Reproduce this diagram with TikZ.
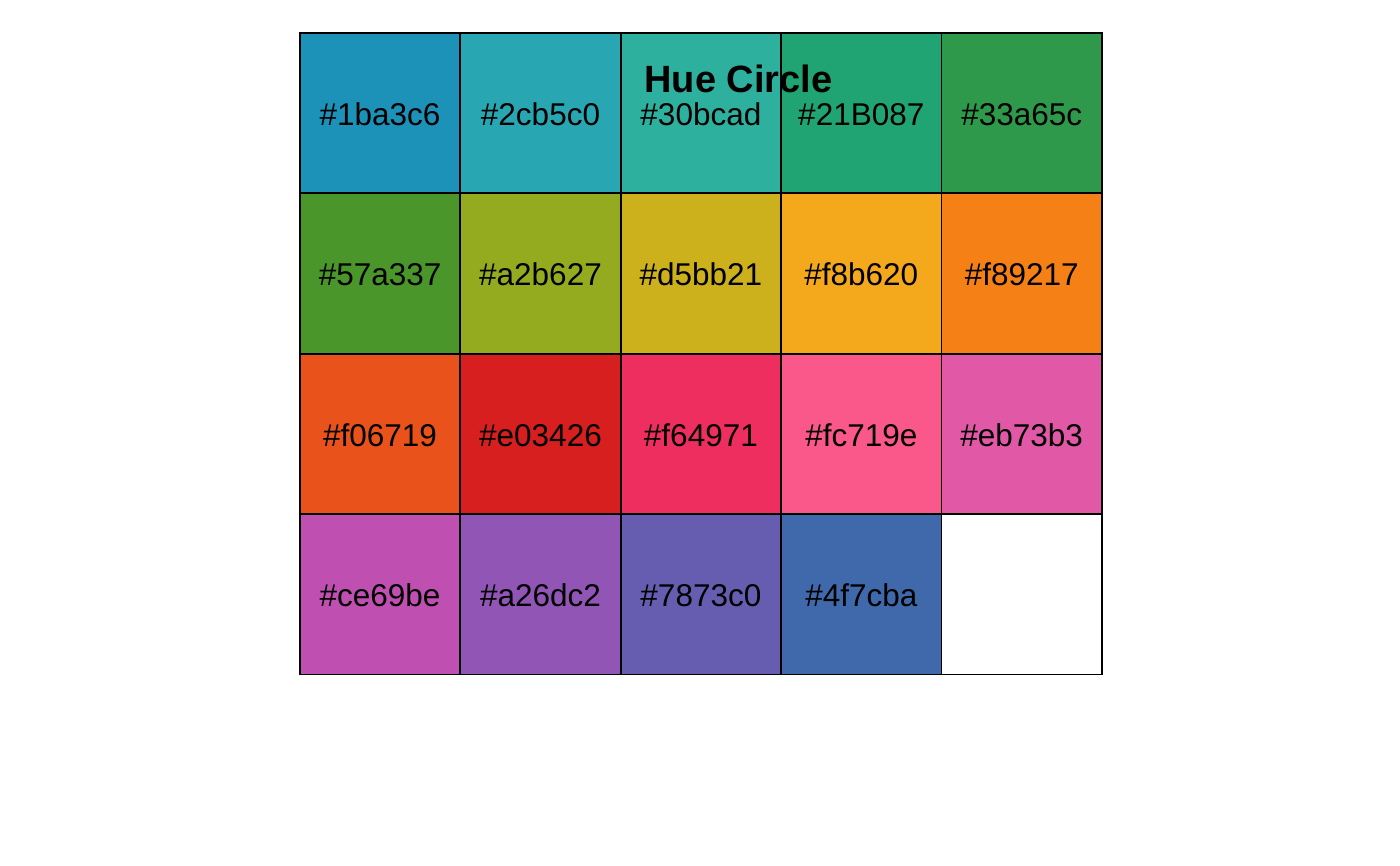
\documentclass[tikz,border=0pt]{standalone}
\usepackage{fontspec}
\setmainfont{Liberation Sans}
\begin{document}
\begin{tikzpicture}[x=1pt,y=-1pt,
  cell/.style={draw=black,line width=1.8pt,minimum width=160.4pt,minimum height=160.4pt,inner sep=0pt,anchor=north west},
  lbl/.style={font=\fontsize{31.5}{31.5}\selectfont,text=black,inner sep=0pt,anchor=base},
  ttl/.style={font=\fontsize{38}{38}\selectfont\bfseries,text=black,inner sep=0pt,anchor=base}]
\useasboundingbox[fill=white] (0,0) rectangle (1400,866);
\foreach \c/\f [count=\i from 0] in {1ba3c6/1C92B9,2cb5c0/28A7B3,30bcad/2DB09E,21B087/21A474,33a65c/2E994B,
  57a337/4A962B,a2b627/94AB1F,d5bb21/CCB11C,f8b620/F4A81C,f89217/F58116,
  f06719/E9521A,e03426/D61F1E,f64971/EE2E5E,fc719e/FA578B,eb73b3/E159A6,
  ce69be/C04FB2,a26dc2/9155B6,7873c0/665DB0,4f7cba/3F69AB}{
  \pgfmathtruncatemacro{\col}{mod(\i,5)}
  \pgfmathtruncatemacro{\row}{div(\i,5)}
  \definecolor{cc\i}{HTML}{\f}
  \node[cell,fill=cc\i] (c\i) at ({299+160.4*\col},{32+160.4*\row}) {};
  \node[lbl] (t\i) at ([yshift=-12.5pt]c\i.center) {\#\c};
}
\node[cell,fill=white] (c19) at ({299+160.4*4},{32+160.4*3}) {};
\node[ttl] (title) at (738.5,93) {Hue Circle};
\end{tikzpicture}
\end{document}
